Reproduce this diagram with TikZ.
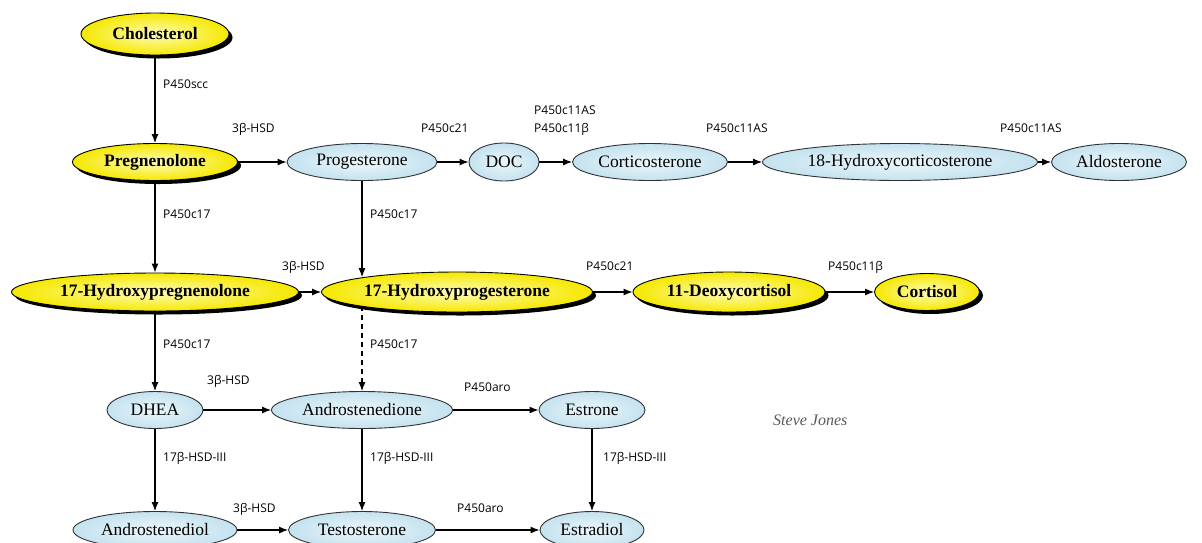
\documentclass[tikz,border=0pt]{standalone}
\usepackage{fontspec}
\setmainfont{Liberation Serif}
\newfontfamily\labelfont{Open Sans}
\usetikzlibrary{shapes.geometric,shadows,arrows.meta}
\definecolor{yin}{RGB}{255,252,185}
\definecolor{yout}{RGB}{245,232,0}
\definecolor{bin}{RGB}{236,247,251}
\definecolor{bout}{RGB}{196,226,239}
\definecolor{edge}{RGB}{50,50,50}
\tikzset{
  basenode/.style={ellipse, inner sep=0pt, line width=0.9pt, draw=edge,
    font=\fontsize{17.5}{20}\selectfont},
  bluenode/.style={basenode, inner color=bin, outer color=bout},
  yellownode/.style={basenode, draw=black, font=\fontsize{17.5}{20}\selectfont\bfseries,
    inner color=yin, outer color=yout,
    drop shadow={shadow xshift=3.5pt, shadow yshift=-3.5pt, fill=black, opacity=1}},
  lbl/.style={font=\labelfont\fontsize{12}{14}\selectfont, anchor=base west, inner sep=0pt},
  arr/.style={-{Latex[length=9pt,width=7pt]}, line width=1.1pt, draw=black},
  darr/.style={arr, dash pattern=on 5pt off 4pt}
}
\begin{document}
\begin{tikzpicture}[x=1pt,y=-1pt]
\useasboundingbox (0,0) rectangle (1202,542);
% nodes
\node[yellownode, minimum width=148pt, minimum height=42pt] (chol) at (155,34) {Cholesterol};
\node[yellownode, minimum width=165pt, minimum height=37pt] (preg) at (155,162) {Pregnenolone};
\node[bluenode, minimum width=150pt, minimum height=37pt] (prog) at (362,162) {Progesterone};
\node[bluenode, minimum width=70pt, minimum height=38pt] (doc) at (504,162) {DOC};
\node[bluenode, minimum width=155pt, minimum height=37pt] (cort) at (650,162) {Corticosterone};
\node[bluenode, minimum width=275pt, minimum height=37pt] (hcort) at (900,162) {18-Hydroxycorticosterone};
\node[bluenode, minimum width=135pt, minimum height=37pt] (aldo) at (1119,162) {Aldosterone};
\node[yellownode, minimum width=287pt, minimum height=38pt] (ohpreg) at (155,292) {17-Hydroxypregnenolone};
\node[yellownode, minimum width=271pt, minimum height=40pt] (ohp) at (457,292) {17-Hydroxyprogesterone};
\node[yellownode, minimum width=192pt, minimum height=40pt] (deoxy) at (729,292) {11-Deoxycortisol};
\node[yellownode, minimum width=105pt, minimum height=37pt] (cortisol) at (927,292) {Cortisol};
\node[bluenode, minimum width=96pt, minimum height=37pt] (dhea) at (155,410) {DHEA};
\node[bluenode, minimum width=181pt, minimum height=37pt] (andro) at (362,410) {Androstenedione};
\node[bluenode, minimum width=106pt, minimum height=37pt] (estrone) at (592,410) {Estrone};
\node[bluenode, minimum width=164pt, minimum height=37pt] (adiol) at (155,530) {Androstenediol};
\node[bluenode, minimum width=147pt, minimum height=37pt] (testo) at (362,530) {Testosterone};
\node[bluenode, minimum width=104pt, minimum height=37pt] (estradiol) at (592,530) {Estradiol};
% connectors
\draw[arr] (chol.south) -- (preg.north);
\draw[arr] (preg.east) -- (prog.west);
\draw[arr] (prog.east) -- (doc.west);
\draw[arr] (doc.east) -- (cort.west);
\draw[arr] (cort.east) -- (hcort.west);
\draw[arr] (hcort.east) -- (aldo.west);
\draw[arr] (preg.south) -- (ohpreg.north);
\draw[arr] (prog.south) -- (prog.south |- ohp.171.46);
\draw[arr] (ohpreg.east) -- (ohp.west);
\draw[arr] (ohp.east) -- (deoxy.west);
\draw[arr] (deoxy.east) -- (cortisol.west);
\draw[arr] (ohpreg.south) -- (dhea.north);
\draw[darr] (andro.north |- ohp.188.54) -- (andro.north);
\draw[arr] (dhea.east) -- (andro.west);
\draw[arr] (andro.east) -- (estrone.west);
\draw[arr] (dhea.south) -- (adiol.north);
\draw[arr] (andro.south) -- (testo.north);
\draw[arr] (estrone.south) -- (estradiol.north);
\draw[arr] (adiol.east) -- (testo.west);
\draw[arr] (testo.east) -- (estradiol.west);
% labels
\node[lbl] (l1) at (163,88) {P450scc};
\node[lbl] (l2) at (232,132) {3β-HSD};
\node[lbl] (l3) at (421,132) {P450c21};
\node[lbl] (l4) at (534,114) {P450c11AS};
\node[lbl] (l5) at (534,132) {P450c11β};
\node[lbl] (l6) at (706,132) {P450c11AS};
\node[lbl] (l7) at (1000,132) {P450c11AS};
\node[lbl] (l8) at (163,218) {P450c17};
\node[lbl] (l9) at (370,218) {P450c17};
\node[lbl] (l10) at (282,270) {3β-HSD};
\node[lbl] (l11) at (586,270) {P450c21};
\node[lbl] (l12) at (828,270) {P450c11β};
\node[lbl] (l13) at (163,348) {P450c17};
\node[lbl] (l14) at (370,348) {P450c17};
\node[lbl] (l15) at (207,384) {3β-HSD};
\node[lbl] (l16) at (464,391) {P450aro};
\node[lbl] (l17) at (163,461) {17β-HSD-III};
\node[lbl] (l18) at (370,461) {17β-HSD-III};
\node[lbl] (l19) at (603,461) {17β-HSD-III};
\node[lbl] (l20) at (233,512) {3β-HSD};
\node[lbl] (l21) at (457,512) {P450aro};
% signature
\node[font=\fontsize{16}{18}\selectfont\itshape, text=black!65, anchor=west, inner sep=0pt] (sig) at (773,420) {Steve Jones};
\end{tikzpicture}
\end{document}
